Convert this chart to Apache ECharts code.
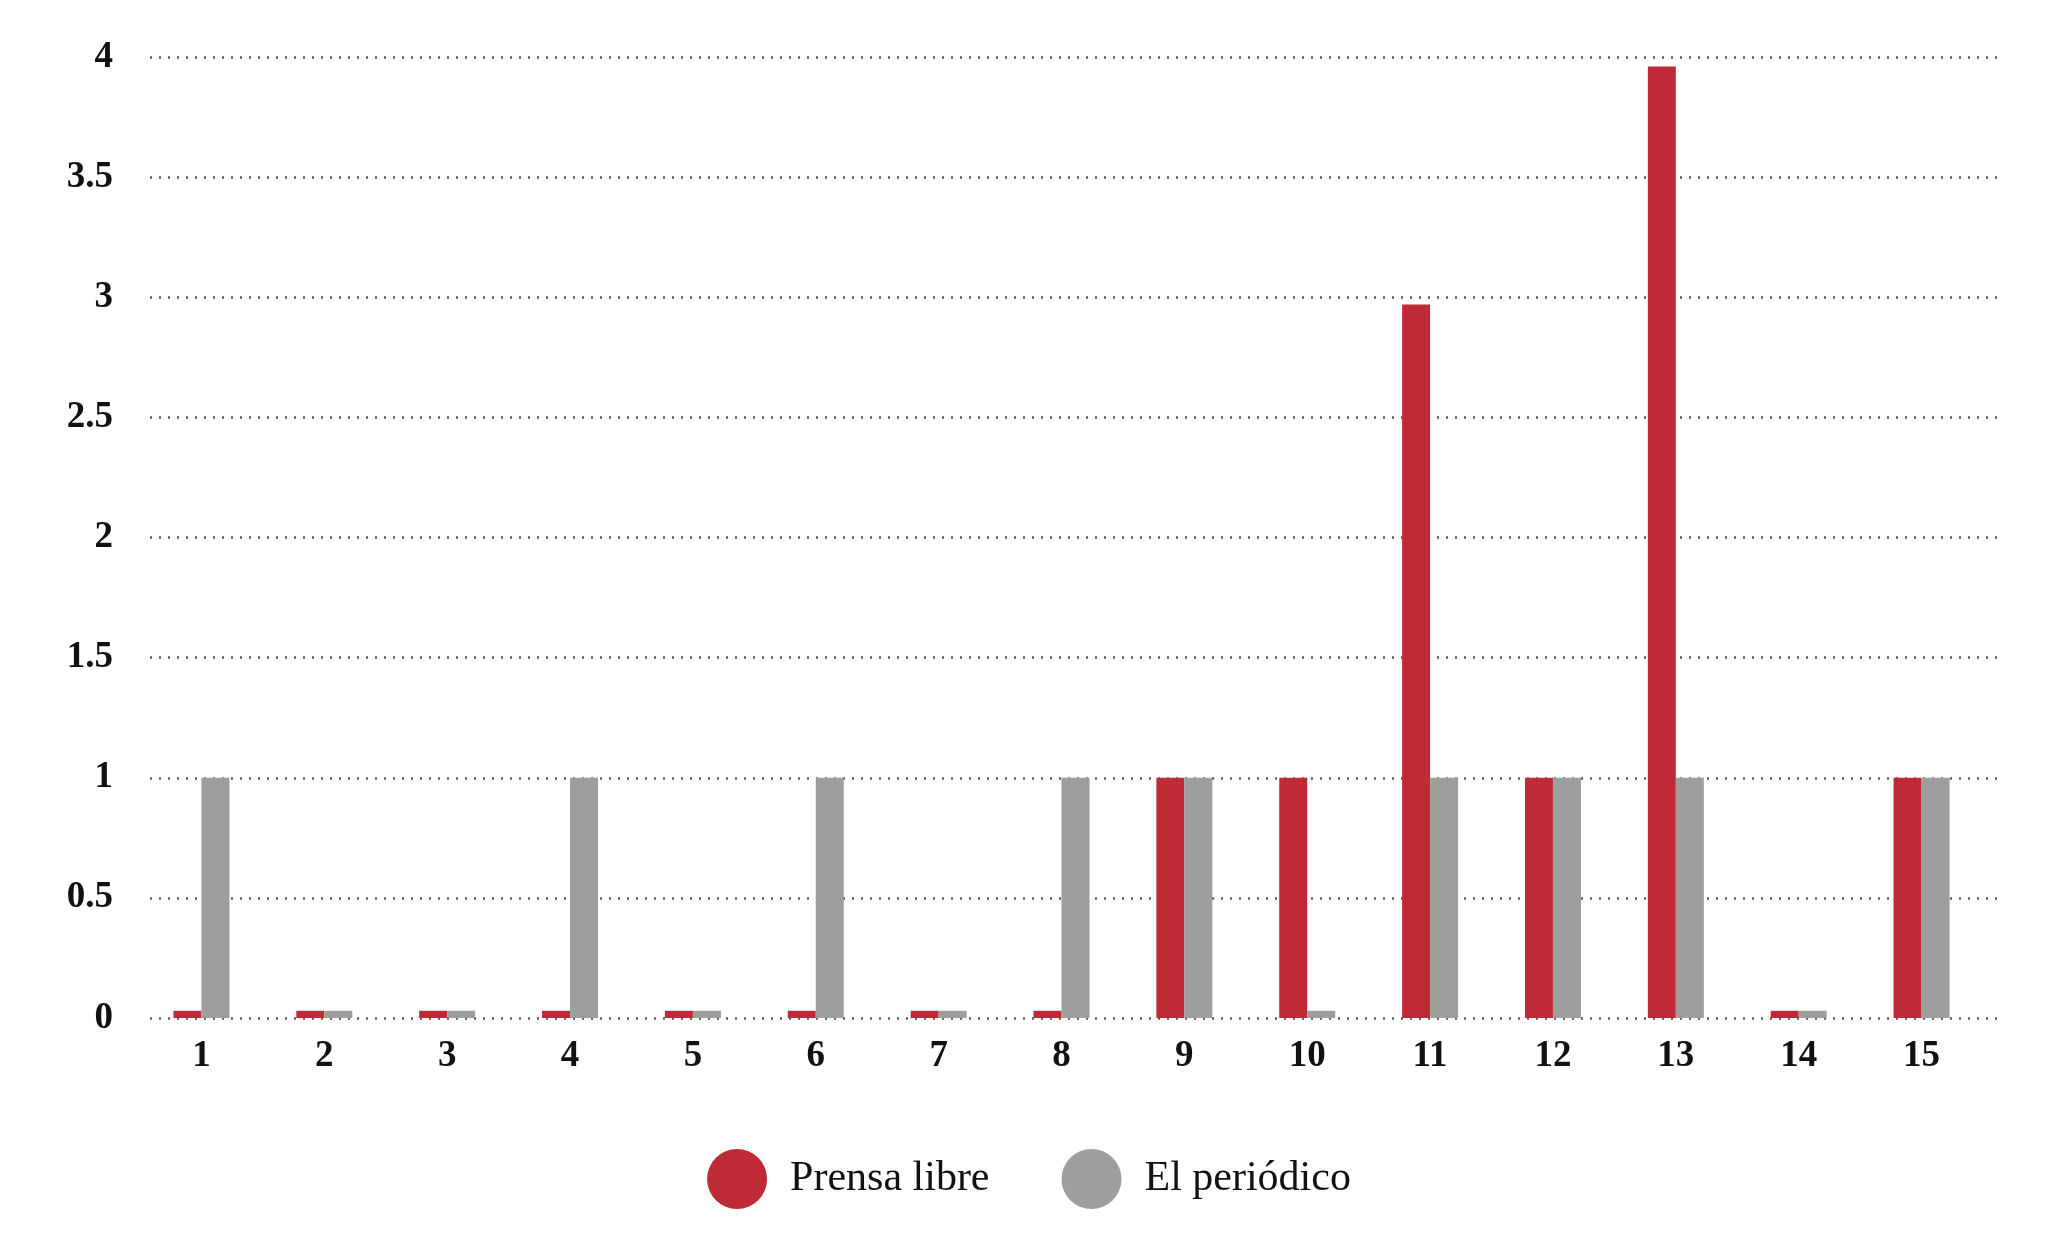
<!DOCTYPE html>
<html>
<head>
<meta charset="utf-8">
<script src="https://cdn.jsdelivr.net/npm/echarts@6/dist/echarts.min.js"></script>
<style>
html,body{margin:0;padding:0;background:#fff;}
#chart{width:2058px;height:1234px;}
</style>
</head>
<body>
<div id="chart"></div>
<script>
const categories = ['1','2','3','4','5','6','7','8','9','10','11','12','13','14','15'];
const prensaLibre = [0.03,0.03,0.03,0.03,0.03,0.03,0.03,0.03,1,1,2.97,1,3.96,0.03,1];
const elPeriodico = [1,0.03,0.03,1,0.03,1,0.03,1,1,0.03,1,1,1,0.03,1];
const seriesNames = ['Prensa libre','El periódico'];
const colors = ['#BE2A36','#9E9E9D'];

const chart = echarts.init(document.getElementById('chart'));
const serif = '"Liberation Serif","DejaVu Serif",serif';
chart.setOption({
  animation: false,
  backgroundColor: '#fff',
  grid: [
    {left: 140, right: 75, top: 57, bottom: 216, containLabel: false},
    {left: 150, right: 59, top: 57, bottom: 216, containLabel: false}
  ],
  legend: {
    data: seriesNames,
    bottom: 20,
    left: 'center',
    icon: 'circle',
    itemWidth: 60,
    itemHeight: 60,
    itemGap: 72,
    textStyle: {fontFamily: serif, fontSize: 42, color: '#111', padding: [0,0,0,18]}
  },
  xAxis: [
    {
      type: 'category',
      gridIndex: 0,
      data: categories,
      axisLine: {show: false},
      axisTick: {show: false},
      axisLabel: {fontFamily: serif, fontWeight: 'bold', fontSize: 37, color: '#111', margin: 20}
    },
    {type: 'value', gridIndex: 1, show: false, min: 0, max: 1}
  ],
  yAxis: [
    {
      type: 'value',
      gridIndex: 0,
      min: 0, max: 4, interval: 0.5,
      axisLine: {show: false},
      axisTick: {show: false},
      axisLabel: {fontFamily: serif, fontWeight: 'bold', fontSize: 37, color: '#111', margin: 27},
      splitLine: {show: false}
    },
    {
      type: 'value',
      gridIndex: 1,
      min: 0, max: 4, interval: 0.5,
      axisLine: {show: false},
      axisTick: {show: false},
      axisLabel: {show: false},
      splitLine: {lineStyle: {type: [2, 7], color: '#5a5a5a', width: 2.5}}
    }
  ],
  series: [
    {name: seriesNames[0], type: 'bar', xAxisIndex: 0, yAxisIndex: 0, data: prensaLibre, barWidth: 28, barGap: '0%', itemStyle: {color: colors[0]}, z: 3},
    {name: seriesNames[1], type: 'bar', xAxisIndex: 0, yAxisIndex: 0, data: elPeriodico, barWidth: 28, barGap: '0%', itemStyle: {color: colors[1]}, z: 3}
  ]
});
</script>
</body>
</html>
